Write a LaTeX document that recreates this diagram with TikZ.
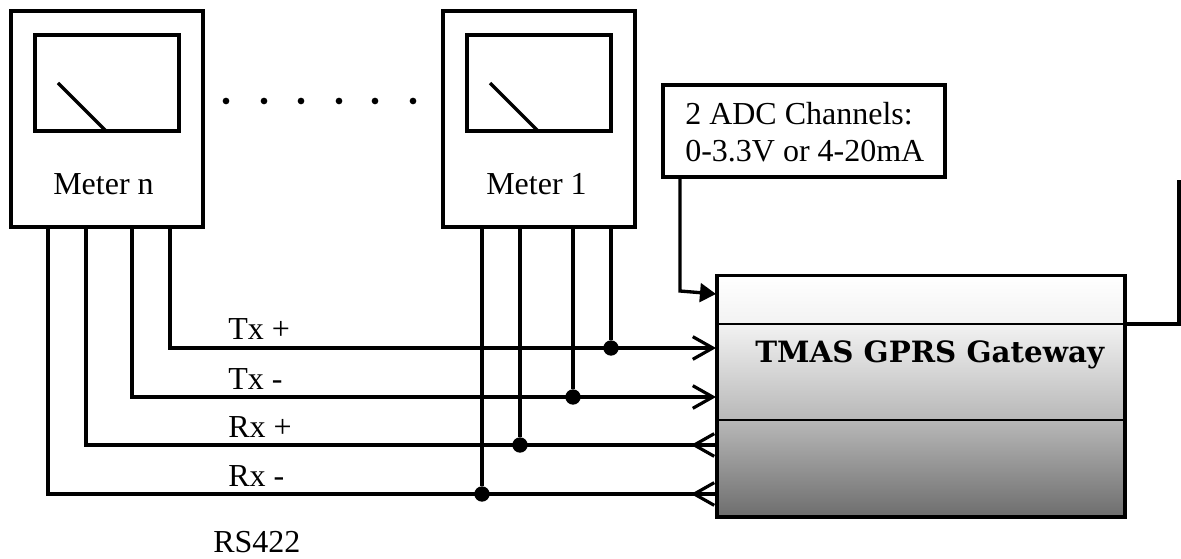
\documentclass[tikz,border=0pt]{standalone}
\usepackage{fontspec}
\setmainfont{Liberation Serif}
\newfontfamily\boldwide{DejaVu Serif}
\usetikzlibrary{arrows.meta}
\definecolor{gA}{gray}{1}
\definecolor{gC}{gray}{0.95}
\definecolor{gM}{gray}{0.72}
\definecolor{gB}{gray}{0.43}
\pgfdeclareverticalshading{gwshade}{100bp}{color(0bp)=(gB); color(25bp)=(gB); color(45bp)=(gM); color(65bp)=(gC); color(75bp)=(gA); color(100bp)=(gA)}
\tikzset{
  x=0.75pt,y=-0.75pt,
  boxed/.style={draw=black,line width=2.7pt,fill=white,inner sep=0pt,outer sep=0pt,anchor=north west},
  wire/.style={draw=black,line width=2.5pt,line join=miter},
  label text/.style={font=\fontsize{24}{28}\selectfont,inner sep=0pt,anchor=base west},
  jdot/.style={circle,fill=black,minimum size=11.5pt,inner sep=0pt},
  dotp/.style={circle,fill=black,minimum size=5pt,inner sep=0pt},
  open tip/.style={-{Straight Barb[length=15pt,width=17pt,line width=2.4pt]}},
  solid tip/.style={-{Triangle[length=12pt,width=14pt]}}
}
\begin{document}
\begin{tikzpicture}
\useasboundingbox (0,0) rectangle (1181,559);
% meters
\node[boxed,minimum width=144pt,minimum height=162pt] (mn) at (11,11) {};
\node[boxed,minimum width=108pt,minimum height=72pt] (sn) at (35,35) {};
\coordinate (nA) at (58,83); \coordinate (nB) at (106,131);
\draw[wire] (nA) -- (nB);
\node[label text] (mnt) at (53,195) {Meter n};
\node[boxed,minimum width=144pt,minimum height=162pt] (m1) at (443,11) {};
\node[boxed,minimum width=108pt,minimum height=72pt] (s1) at (467,35) {};
\coordinate (oA) at (490,83); \coordinate (oB) at (538,131);
\draw[wire] (oA) -- (oB);
\node[label text] (m1t) at (486,195) {Meter 1};
\foreach \x [count=\i] in {226,264,301,339,375,413} \node[dotp] (d\i) at (\x,101) {};
% gateway
\node[draw=black,line width=2.7pt,outer sep=0pt,inner sep=0pt,minimum width=306pt,minimum height=181pt,anchor=north west,
  shading=gwshade] (gw) at (717,275.5) {};
\coordinate (gwL1) at (717,324); \coordinate (gwR1) at (1125,324);
\coordinate (gwL2) at (717,420); \coordinate (gwR2) at (1125,420);
\draw[line width=1.3pt] (gwL1) -- (gwR1);
\draw[line width=1.3pt] (gwL2) -- (gwR2);
\node[font=\boldwide\bfseries\fontsize{22}{26}\selectfont,inner sep=0pt,anchor=base west] (gwt) at (755,362.5) {TMAS GPRS Gateway};
% ADC box
\node[boxed,minimum width=211.5pt,minimum height=69pt] (adc) at (663,85) {};
\node[label text] (adc1) at (685,125) {2 ADC Channels:};
\node[label text] (adc2) at (685,162) {0-3.3V or 4-20mA};
\coordinate (adcA) at (680,177); \coordinate (adcB) at (680,291); \coordinate (gwA) at (716,294);
\draw[wire,solid tip] (adcA) -- (adcB) -- (gwA);
% antenna line
\coordinate (antT) at (1179,180); \coordinate (antB) at (1179,324);
\draw[wire] (gwR1) -- (antB) -- (antT);
% bus
\coordinate (a1) at (170,227); \coordinate (a2) at (170,348); \coordinate (a3) at (716,348);
\coordinate (b1) at (132,227); \coordinate (b2) at (132,397); \coordinate (b3) at (716,397);
\coordinate (c1) at (86,227);  \coordinate (c2) at (86,445);  \coordinate (c3) at (717,445); \coordinate (c4) at (691,445);
\coordinate (e1) at (48,227);  \coordinate (e2) at (48,494);  \coordinate (e3) at (717,494); \coordinate (e4) at (691,494);
\draw[wire,open tip] (a1) -- (a2) -- (a3);
\draw[wire,open tip] (b1) -- (b2) -- (b3);
\draw[wire] (c1) -- (c2) -- (c3);
\draw[wire] (e1) -- (e2) -- (e3);
\draw[wire,open tip] (c3) -- (c4);
\draw[wire,open tip] (e3) -- (e4);
% meter 1 taps
\node[jdot] (ja) at (611,348) {};
\node[jdot] (jb) at (573,397) {};
\node[jdot] (jc) at (520,445) {};
\node[jdot] (je) at (482,494) {};
\coordinate (ta) at (611,227); \coordinate (tb) at (573,227);
\coordinate (tc) at (520,227); \coordinate (te) at (482,227);
\draw[wire] (ta) -- (ja); \draw[wire] (tb) -- (jb);
\draw[wire] (tc) -- (jc); \draw[wire] (te) -- (je);
% labels
\node[label text] (txp) at (228,340) {Tx +};
\node[label text] (txm) at (228,389) {Tx -};
\node[label text] (rxp) at (228,437) {Rx +};
\node[label text] (rxm) at (228,486) {Rx -};
\node[label text] (rs) at (213,552) {RS422};
\end{tikzpicture}
\end{document}
